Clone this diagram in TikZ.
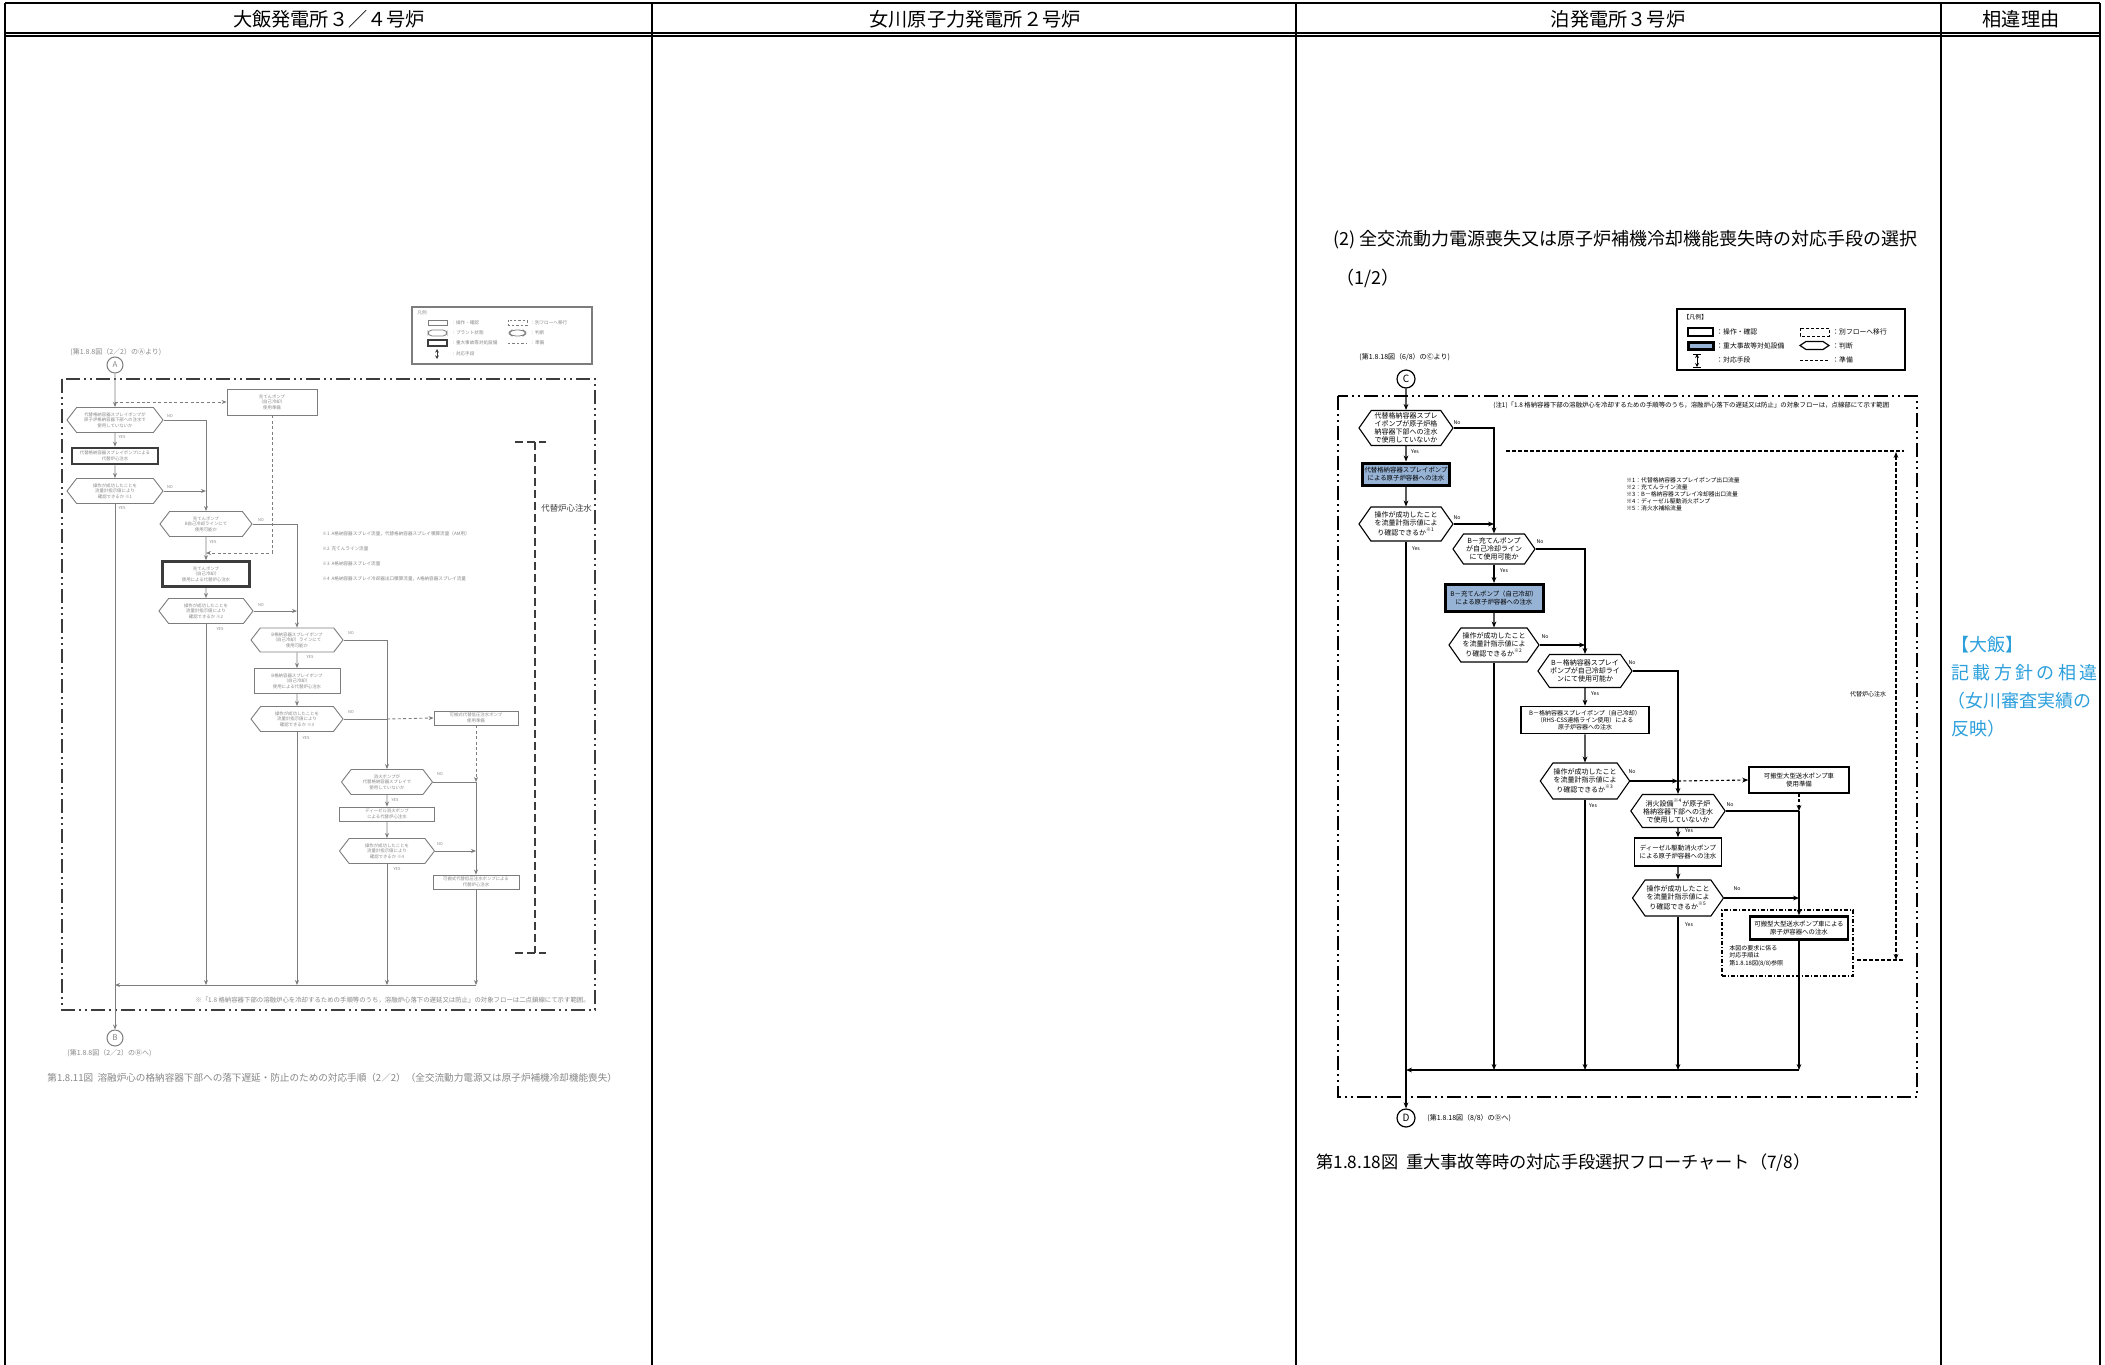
\documentclass[tikz,border=0pt]{standalone}
\usepackage{fontspec}
\setmainfont{Noto Sans CJK JP}
\usetikzlibrary{shapes.symbols,arrows.meta,calc}
\definecolor{bluefill}{RGB}{150,178,212}
\definecolor{notecol}{RGB}{45,160,220}
\definecolor{lg}{RGB}{125,125,125}
\definecolor{lt}{RGB}{135,135,135}
\definecolor{ldk}{RGB}{60,60,60}
\newcommand{\fsz}[2]{\fontsize{#1pt}{#2pt}\selectfont}
\tikzset{
 tab/.style={line width=0.9pt},
 hdr/.style={font=\fsz{9.6}{11}, inner sep=0pt},
 rhex/.style={signal, signal to=east and west, signal pointer angle=110, draw, line width=0.55pt, inner sep=0.3pt, align=center, font=\fsz{3.5}{4}},
 rbox/.style={draw, line width=0.8pt, inner sep=0.4pt, align=center, font=\fsz{3.2}{3.8}},
 rblue/.style={rbox, fill=bluefill, line width=1.5pt},
 con/.style={line width=0.55pt},
 arr/.style={con, -{Stealth[length=3pt,width=2.4pt]}},
 dcon/.style={con, dash pattern=on 1.5pt off 1.2pt},
 yn/.style={font=\fsz{2.6}{3}, inner sep=0pt},
 frm/.style={line width=1.1pt, dash pattern=on 7pt off 2pt on 1pt off 2pt on 1pt off 2pt},
 conn/.style={circle, draw, line width=0.6pt, inner sep=0pt, minimum size=9pt, font=\fsz{5}{5}},
 lgtext/.style={anchor=west, inner sep=0pt, font=\fsz{3.4}{4}},
 rnote/.style={anchor=west, inner sep=0pt, font=\fsz{2.9}{3.3}},
 lhex/.style={signal, signal to=east and west, signal pointer angle=105, draw=lg, line width=0.45pt, inner sep=0.2pt, align=center, text=lt, font=\fsz{2.2}{2.7}},
 lbox/.style={draw=lg, line width=0.45pt, inner sep=0.3pt, align=center, text=lt, font=\fsz{2.2}{2.7}},
 lthick/.style={lbox, draw=ldk, line width=1.3pt},
 lcon/.style={draw=lg, line width=0.45pt},
 larr/.style={lcon, -{Stealth[length=2.5pt,width=2pt]}},
 ldash/.style={lcon, dash pattern=on 1.5pt off 1.2pt},
 lyn/.style={text=lt, font=\fsz{2}{2.4}, inner sep=0pt},
 lconn/.style={circle, draw=lg, line width=0.5pt, inner sep=0pt, minimum size=8pt, text=lt, font=\fsz{4}{4}},
 ltxt/.style={anchor=west, inner sep=0pt, text=lt, font=\fsz{2.3}{2.8}},
}
\begin{document}
\begin{tikzpicture}[x=0.5pt,y=-0.5pt]
\useasboundingbox[fill=white] (0,0) rectangle (2105,1365);

% ---------------- table ----------------
\draw[tab] (5,3) -- (2100,3);
\draw[tab] (5,33) -- (2100,33);
\draw[tab] (5,36) -- (2100,36);
\foreach \x in {5,652,1296,1941,2100} \draw[tab] (\x,3) -- (\x,1365);
\node[hdr] (h1) at (329,19) {大飯発電所３／４号炉};
\node[hdr] (h2) at (975,19) {女川原子力発電所２号炉};
\node[hdr] (h3) at (1618,19) {泊発電所３号炉};
\node[hdr] (h4) at (2021,19) {相違理由};

% ---------------- reason column ----------------
\node[anchor=west, inner sep=0pt, text=notecol, font=\fsz{9}{10}] (r1) at (1951,645) {【大飯】};
\node[anchor=west, inner sep=0pt, text=notecol, font=\fsz{9}{10}] (r2) at (1951,673) {\hbox to 73pt{記\hfil 載\hfil 方\hfil 針\hfil の\hfil 相\hfil 違}};
\node[anchor=west, inner sep=0pt, text=notecol, font=\fsz{9}{10}] (r3) at (1947,701) {（女川審査実績の};
\node[anchor=west, inner sep=0pt, text=notecol, font=\fsz{9}{10}] (r4) at (1951,729) {反映）};

% ================= RIGHT CHART (Tomari) =================
\node[anchor=west, inner sep=0pt, font=\fsz{9}{10}] (rt1) at (1333,240) {(2)\ 全交流動力電源喪失又は原子炉補機冷却機能喪失時の対応手段の選択};
\node[anchor=west, inner sep=0pt, font=\fsz{9}{10}] (rt2) at (1336,278) {（1/2）};

% legend
\draw[line width=0.9pt] (1677,309) rectangle (1905,370);
\node[anchor=west, inner sep=0pt, font=\fsz{3}{3.5}] (lgR0) at (1683,317) {【凡例】};
\draw[line width=0.6pt] (1688,328) rectangle (1713,336);
\node[lgtext] (lgR1) at (1716,332) {：操作・確認};
\draw[line width=1.5pt, fill=bluefill] (1688,342) rectangle (1713,349);
\node[lgtext] (lgR2) at (1716,345.5) {：重大事故等対処設備};
\draw[line width=0.5pt, {Stealth[length=2pt,width=2pt]}-{Stealth[length=2pt,width=2pt]}] (1697,354) -- (1697,367);
\draw[line width=0.5pt] (1693,354) -- (1701,354) (1693,367) -- (1701,367);
\node[lgtext] (lgR3) at (1716,360) {：対応手段};
\draw[line width=0.5pt, dash pattern=on 1.5pt off 1pt] (1800,328) rectangle (1829,336);
\node[lgtext] (lgR4) at (1832,332) {：別フローへ移行};
\draw[line width=0.6pt] (1800,345.5) -- (1806,341.5) -- (1823,341.5) -- (1829,345.5) -- (1823,349.5) -- (1806,349.5) -- cycle;
\node[lgtext] (lgR5) at (1832,345.5) {：判断};
\draw[line width=0.5pt, dash pattern=on 1.5pt off 1pt] (1800,360) -- (1828,360);
\node[lgtext] (lgR6) at (1832,360) {：準備};

% connector C
\node[anchor=west, inner sep=0pt, font=\fsz{3.5}{4}] (Ct) at (1359,357) {(第1.8.18図（6/8）のⒸより)};
\node[conn] (C) at (1406,379) {C};

% frame
\draw[frm] (1338,396) rectangle (1917,1097);
\node[anchor=west, inner sep=0pt, font=\fsz{3.2}{3.6}] (note1) at (1493,405) {(注1)「1.8 格納容器下部の溶融炉心を冷却するための手順等のうち，溶融炉心落下の遅延又は防止」の対象フローは，点線部にて示す範囲};

% notes list
\node[rnote] (nt1) at (1626,480) {※1：代替格納容器スプレイポンプ出口流量};
\node[rnote] (nt2) at (1626,487) {※2：充てんライン流量};
\node[rnote] (nt3) at (1626,494) {※3：B－格納容器スプレイ冷却器出口流量};
\node[rnote] (nt4) at (1626,501) {※4：ディーゼル駆動消火ポンプ};
\node[rnote] (nt5) at (1626,508) {※5：消火水補給流量};

% nodes
\node[rhex, minimum width=47pt, minimum height=17.5pt] (N1) at (1406,428) {代替格納容器スプレ\\イポンプが原子炉格\\納容器下部への注水\\で使用していないか};
\node[rblue, minimum width=43.5pt, minimum height=11pt] (B1) at (1406,474) {代替格納容器スプレイポンプ\\による原子炉容器への注水};
\node[rhex, minimum width=47pt, minimum height=17pt] (N2) at (1406,524) {操作が成功したこと\\を流量計指示値によ\\り確認できるか\textsuperscript{※1}};
\node[rhex, minimum width=41pt, minimum height=15pt] (N3) at (1494,549) {B－充てんポンプ\\が自己冷却ライン\\にて使用可能か};
\node[rblue, minimum width=49pt, minimum height=13.5pt] (B2) at (1494,598) {B－充てんポンプ（自己冷却）\\による原子炉容器への注水};
\node[rhex, minimum width=45pt, minimum height=17pt] (N4) at (1494,645) {操作が成功したこと\\を流量計指示値によ\\り確認できるか\textsuperscript{※2}};
\node[rhex, minimum width=44pt, minimum height=16.5pt] (N5) at (1585,671) {B－格納容器スプレイ\\ポンプが自己冷却ライ\\ンにて使用可能か};
\node[rbox, minimum width=64pt, minimum height=13.5pt, font=\fsz{3}{3.6}] (N6) at (1585,720) {B－格納容器スプレイポンプ（自己冷却）\\（RHS-CSS連絡ライン使用）による\\原子炉容器への注水};
\node[rhex, minimum width=44.5pt, minimum height=18pt] (N7) at (1585,781) {操作が成功したこと\\を流量計指示値によ\\り確認できるか\textsuperscript{※3}};
\node[rbox, minimum width=50pt, minimum height=13pt] (N8) at (1799,780) {可搬型大型送水ポンプ車\\使用準備};
\node[rhex, minimum width=44pt, minimum height=16.5pt] (N9) at (1678,811) {消火設備\textsuperscript{※4}が原子炉\\格納容器下部への注水\\で使用していないか};
\node[rbox, minimum width=43.5pt, minimum height=14pt] (N10) at (1678,852) {ディーゼル駆動消火ポンプ\\による原子炉容器への注水};
\node[rhex, minimum width=45.5pt, minimum height=18pt] (N11) at (1678,898) {操作が成功したこと\\を流量計指示値によ\\り確認できるか\textsuperscript{※5}};
\node[draw, line width=0.8pt, dash pattern=on 2pt off 1pt on 0.6pt off 1pt, minimum width=65.5pt, minimum height=33pt, inner sep=0pt] (N13) at (1787.5,943) {};
\node[rbox, line width=1.2pt, minimum width=49pt, minimum height=11.5pt] (N12) at (1799,928) {可搬型大型送水ポンプ車による\\原子炉容器への注水};
\node[anchor=north west, inner sep=0pt, align=left, font=\fsz{3}{3.7}] (N13t) at (1729,945) {本図の要求に係る\\対応手順は\\第1.8.18図(8/8)参照};

\node[conn] (D) at (1406,1118) {D};
\node[anchor=west, inner sep=0pt, font=\fsz{3.5}{4}] (Dt) at (1427,1118) {(第1.8.18図（8/8）のⒹへ)};
\node[anchor=west, inner sep=0pt, font=\fsz{8.6}{9}] (rcap) at (1316,1163) {第1.8.18図\ \ 重大事故等時の対応手段選択フローチャート（7/8）};

\coordinate (rb1) at (1406,1070);

% connectors
\draw[arr] (C) -- (N1);
\draw[arr] (N1.east) -| (N3.north);
\draw[arr] (N1) -- (B1);
\draw[arr] (B1) -- (N2);
\draw[arr] (N2.east) -- (N3.north |- N2.east);
\draw[arr] (N2.south) -- (D.north);
\draw[arr] (N3.east) -| (N5.north);
\draw[arr] (N3) -- (B2);
\draw[arr] (B2) -- (N4);
\draw[arr] (N4.east) -- (N5.north |- N4.east);
\draw[arr] (N4.south) -- (N4.south |- rb1);
\draw[arr] (N5.east) -| (N9.north);
\draw[arr] (N5) -- (N6);
\draw[arr] (N6) -- (N7);
\draw[arr] (N7.east) -- (N9.north |- N7.east);
\draw[dcon, -{Stealth[length=3pt,width=2.4pt]}] (N9.north |- N7.east) -- (N8.west);
\draw[arr] (N7.south) -- (N7.south |- rb1);
\draw[dcon, -{Stealth[length=3pt,width=2.4pt]}] (N8.south) -- (N8.south |- N9.east);
\draw[con] (N9.east) -- (N8.south |- N9.east);
\draw[arr] (N8.south |- N9.east) -- (N12.north);
\draw[arr] (N9) -- (N10);
\draw[arr] (N10) -- (N11);
\draw[arr] (N11.east) -- (N12.north |- N11.east);
\draw[arr] (N11.south) -- (N11.south |- rb1);
\draw[arr] (N12.south) -- (N12.south |- rb1);
\draw[arr] (N12.south |- rb1) -- (rb1);

% yes/no labels
\node[yn] (y1) at (1415,452) {Yes};
\node[yn] (n1) at (1457,423) {No};
\node[yn] (y2) at (1416,549) {Yes};
\node[yn] (n2) at (1457,518) {No};
\node[yn] (y3) at (1504,571) {Yes};
\node[yn] (n3) at (1540,542) {No};
\node[yn] (n4) at (1545,637) {No};
\node[yn] (y5) at (1595,694) {Yes};
\node[yn] (n5) at (1632,663) {No};
\node[yn] (y7) at (1593,806) {Yes};
\node[yn] (n7) at (1632,772) {No};
\node[yn] (y9) at (1689,831) {Yes};
\node[yn] (n9) at (1730,805) {No};
\node[yn] (y11) at (1689,925) {Yes};
\node[yn] (n11) at (1737,889) {No};

% alternate core injection range
\draw[con, dash pattern=on 2pt off 1pt] (1506,451) -- (1904,451);
\draw[con, dash pattern=on 2pt off 1pt, {Stealth[length=3pt,width=2.4pt]}-{Stealth[length=3pt,width=2.4pt]}] (1896,452) -- (1896,960);
\draw[con, dash pattern=on 2pt off 1pt] (1857,960) -- (1904,960);
\node[inner sep=0pt, font=\fsz{3}{3.5}] (alt) at (1868,694) {代替炉心注水};

% ================= LEFT CHART (Ohi) =================
% legend
\draw[draw=lg, line width=0.6pt] (412,307) rectangle (592,364);
\node[ltxt] (lgL0) at (417,313) {凡例};
\draw[draw=lg, line width=0.4pt] (428,320) rectangle (447,325);
\node[ltxt] (lgL1) at (451,322.5) {：操作・確認};
\draw[draw=lg, line width=0.4pt, rounded corners=2pt] (428,330) rectangle (447,336);
\node[ltxt] (lgL2) at (451,333) {：プラント状態};
\draw[draw=ldk, line width=1.1pt] (428,340) rectangle (447,346);
\node[ltxt] (lgL3) at (451,343) {：重大事故等対処設備};
\draw[draw=ldk, line width=0.5pt, {Stealth[length=1.8pt,width=1.8pt]}-{Stealth[length=1.8pt,width=1.8pt]}] (437,349) -- (437,359);
\node[ltxt] (lgL4) at (451,354) {：対応手段};
\draw[draw=lg, line width=0.4pt, dash pattern=on 1.2pt off 1pt] (508,320) rectangle (527,325);
\node[ltxt] (lgL5) at (530,322.5) {：別フローへ移行};
\draw[draw=lg, line width=0.4pt, rounded corners=2pt] (508,333) -- (512,330) -- (523,330) -- (527,333) -- (523,336) -- (512,336) -- cycle;
\node[ltxt] (lgL6) at (530,333) {：判断};
\draw[draw=lg, line width=0.4pt, dash pattern=on 1.2pt off 1pt] (508,343) -- (527,343);
\node[ltxt] (lgL7) at (530,343) {：準備};

\node[anchor=west, inner sep=0pt, text=lt, font=\fsz{3.5}{4}] (LAt) at (70,352) {(第1.8.8図（2／2）のⒶより)};
\node[lconn] (LA) at (115,365) {A};
\draw[frm, draw=ldk] (62,379) rectangle (595,1010);

\node[lbox, minimum width=45pt, minimum height=13pt] (L0) at (272,402) {充てんポンプ\\（自己冷却）\\使用準備};
\node[lhex, minimum width=48pt, minimum height=12.5pt] (L1) at (115,420) {代替格納容器スプレイポンプが\\原子炉格納容器下部への注水で\\使用していないか};
\node[lthick, minimum width=43pt, minimum height=8pt] (LB1) at (115,456) {代替格納容器スプレイポンプによる\\代替炉心注水};
\node[lhex, minimum width=48pt, minimum height=12.5pt] (L2) at (115,491) {操作が成功したことを\\流量計指示値により\\確認できるか\ ※1};
\node[lhex, minimum width=46pt, minimum height=12.5pt] (L3) at (206,524) {充てんポンプ\\B自己冷却ラインにて\\使用可能か};
\node[lthick, minimum width=43.5pt, minimum height=12.5pt] (LB2) at (206,574) {充てんポンプ\\（自己冷却）\\使用による代替炉心注水};
\node[lhex, minimum width=47pt, minimum height=12.5pt] (L4) at (206,611) {操作が成功したことを\\流量計指示値により\\確認できるか\ ※2};
\node[lhex, minimum width=46pt, minimum height=12pt] (L5) at (297,640) {B格納容器スプレイポンプ\\（自己冷却）ラインにて\\使用可能か};
\node[lbox, minimum width=43pt, minimum height=12.5pt] (L6) at (297,681) {B格納容器スプレイポンプ\\（自己冷却）\\使用による代替炉心注水};
\node[lhex, minimum width=46pt, minimum height=12.5pt] (L7) at (297,719) {操作が成功したことを\\流量計指示値により\\確認できるか\ ※3};
\node[lbox, minimum width=42pt, minimum height=7pt] (LR1) at (476,718) {可搬式代替低圧注水ポンプ\\使用準備};
\node[lhex, minimum width=45.5pt, minimum height=12.5pt] (L8) at (387,782) {消火ポンプが\\代替格納容器スプレイで\\使用していないか};
\node[lbox, minimum width=47.5pt, minimum height=7pt] (L9) at (387,814) {ディーゼル消火ポンプ\\による代替炉心注水};
\node[lhex, minimum width=47.5pt, minimum height=12.5pt] (L10) at (387,851) {操作が成功したことを\\流量計指示値により\\確認できるか\ ※4};
\node[lbox, minimum width=43pt, minimum height=7pt] (LR2) at (476,882) {可搬式代替低圧注水ポンプによる\\代替炉心注水};

\node[lconn] (LB) at (115,1038) {B};
\node[anchor=west, inner sep=0pt, text=lt, font=\fsz{3.5}{4}] (LBt) at (67,1053) {(第1.8.8図（2／2）のⒷへ)};

\coordinate (lbot) at (115,985);
\coordinate (ldj) at (206,553);

\draw[ldash, -{Stealth[length=2.5pt,width=2pt]}] (LA.south |- L0.west) -- (L0.west);
\draw[larr] (LA) -- (L1);
\draw[larr] (L1.east) -| (L3.north);
\draw[larr] (L1) -- (LB1);
\draw[larr] (LB1) -- (L2);
\draw[larr] (L2.east) -- (L3.north |- L2.east);
\draw[larr] (L2.south) -- (LB.north);
\draw[larr] (L3.east) -| (L5.north);
\draw[larr] (L3) -- (LB2);
\draw[ldash, -{Stealth[length=2.5pt,width=2pt]}] (L0.south) -- (L0.south |- ldj) -- (ldj);
\draw[larr] (LB2) -- (L4);
\draw[larr] (L4.east) -- (L5.north |- L4.east);
\draw[larr] (L4.south) -- (L4.south |- lbot);
\draw[larr] (L5.east) -| (L8.north);
\draw[larr] (L5) -- (L6);
\draw[larr] (L6) -- (L7);
\draw[lcon] (L7.east) -- (L8.north |- L7.east);
\draw[ldash, -{Stealth[length=2.5pt,width=2pt]}] (L8.north |- L7.east) -- (LR1.west);
\draw[larr] (L7.south) -- (L7.south |- lbot);
\draw[ldash, -{Stealth[length=2.5pt,width=2pt]}] (LR1.south) -- (LR1.south |- L8.east);
\draw[lcon] (L8.east) -- (LR1.south |- L8.east);
\draw[larr] (LR1.south |- L8.east) -- (LR2.north);
\draw[larr] (L8) -- (L9);
\draw[larr] (L9) -- (L10);
\draw[larr] (L10.east) -- (LR2.north |- L10.east);
\draw[larr] (L10.south) -- (L10.south |- lbot);
\draw[larr] (LR2.south) -- (LR2.south |- lbot);
\draw[larr] (LR2.south |- lbot) -- (lbot);

\node[lyn] (ly1) at (122,437) {YES};
\node[lyn] (ln1) at (170,416) {NO};
\node[lyn] (ly2) at (122,508) {YES};
\node[lyn] (ln2) at (170,487) {NO};
\node[lyn] (ly3) at (213,542) {YES};
\node[lyn] (ln3) at (261,520) {NO};
\node[lyn] (ly4) at (220,629) {YES};
\node[lyn] (ln4) at (261,605) {NO};
\node[lyn] (ly5) at (310,657) {YES};
\node[lyn] (ln5) at (351,633) {NO};
\node[lyn] (ly7) at (306,738) {YES};
\node[lyn] (ln7) at (351,712) {NO};
\node[lyn] (ly8) at (395,800) {YES};
\node[lyn] (ln8) at (440,774) {NO};
\node[lyn] (ly10) at (397,869) {YES};
\node[lyn] (ln10) at (440,844) {NO};

% notes
\node[ltxt] (lnt1) at (322,534) {※1\ \ A格納容器スプレイ流量，代替格納容器スプレイ積算流量（AM用）};
\node[ltxt] (lnt2) at (322,549) {※2\ \ 充てんライン流量};
\node[ltxt] (lnt3) at (322,564) {※3\ \ A格納容器スプレイ流量};
\node[ltxt] (lnt4) at (322,579) {※4\ \ A格納容器スプレイ冷却器出口積算流量，A格納容器スプレイ流量};

% bracket
\draw[draw=ldk, line width=1.1pt, dash pattern=on 4pt off 2pt] (535,442) -- (535,953);
\draw[draw=ldk, line width=1.1pt, dash pattern=on 4pt off 2pt] (515,442) -- (546,442);
\draw[draw=ldk, line width=1.1pt, dash pattern=on 4pt off 2pt] (515,953) -- (546,953);
\node[anchor=west, inner sep=0pt, text=ldk, font=\fsz{4.2}{5}] (Lbr) at (541,508) {代替炉心注水};

\node[anchor=west, inner sep=0pt, text=lt, font=\fsz{3.2}{3.6}] (Lnote) at (195,1000) {※「1.8 格納容器下部の溶融炉心を冷却するための手順等のうち，溶融炉心落下の遅延又は防止」の対象フローは二点鎖線にて示す範囲。};
\node[anchor=west, inner sep=0pt, text=lt, font=\fsz{4.8}{5.5}] (Lcap) at (47,1078) {第1.8.11図\ \ 溶融炉心の格納容器下部への落下遅延・防止のための対応手順（2／2）（全交流動力電源又は原子炉補機冷却機能喪失）};
\end{tikzpicture}
\end{document}
